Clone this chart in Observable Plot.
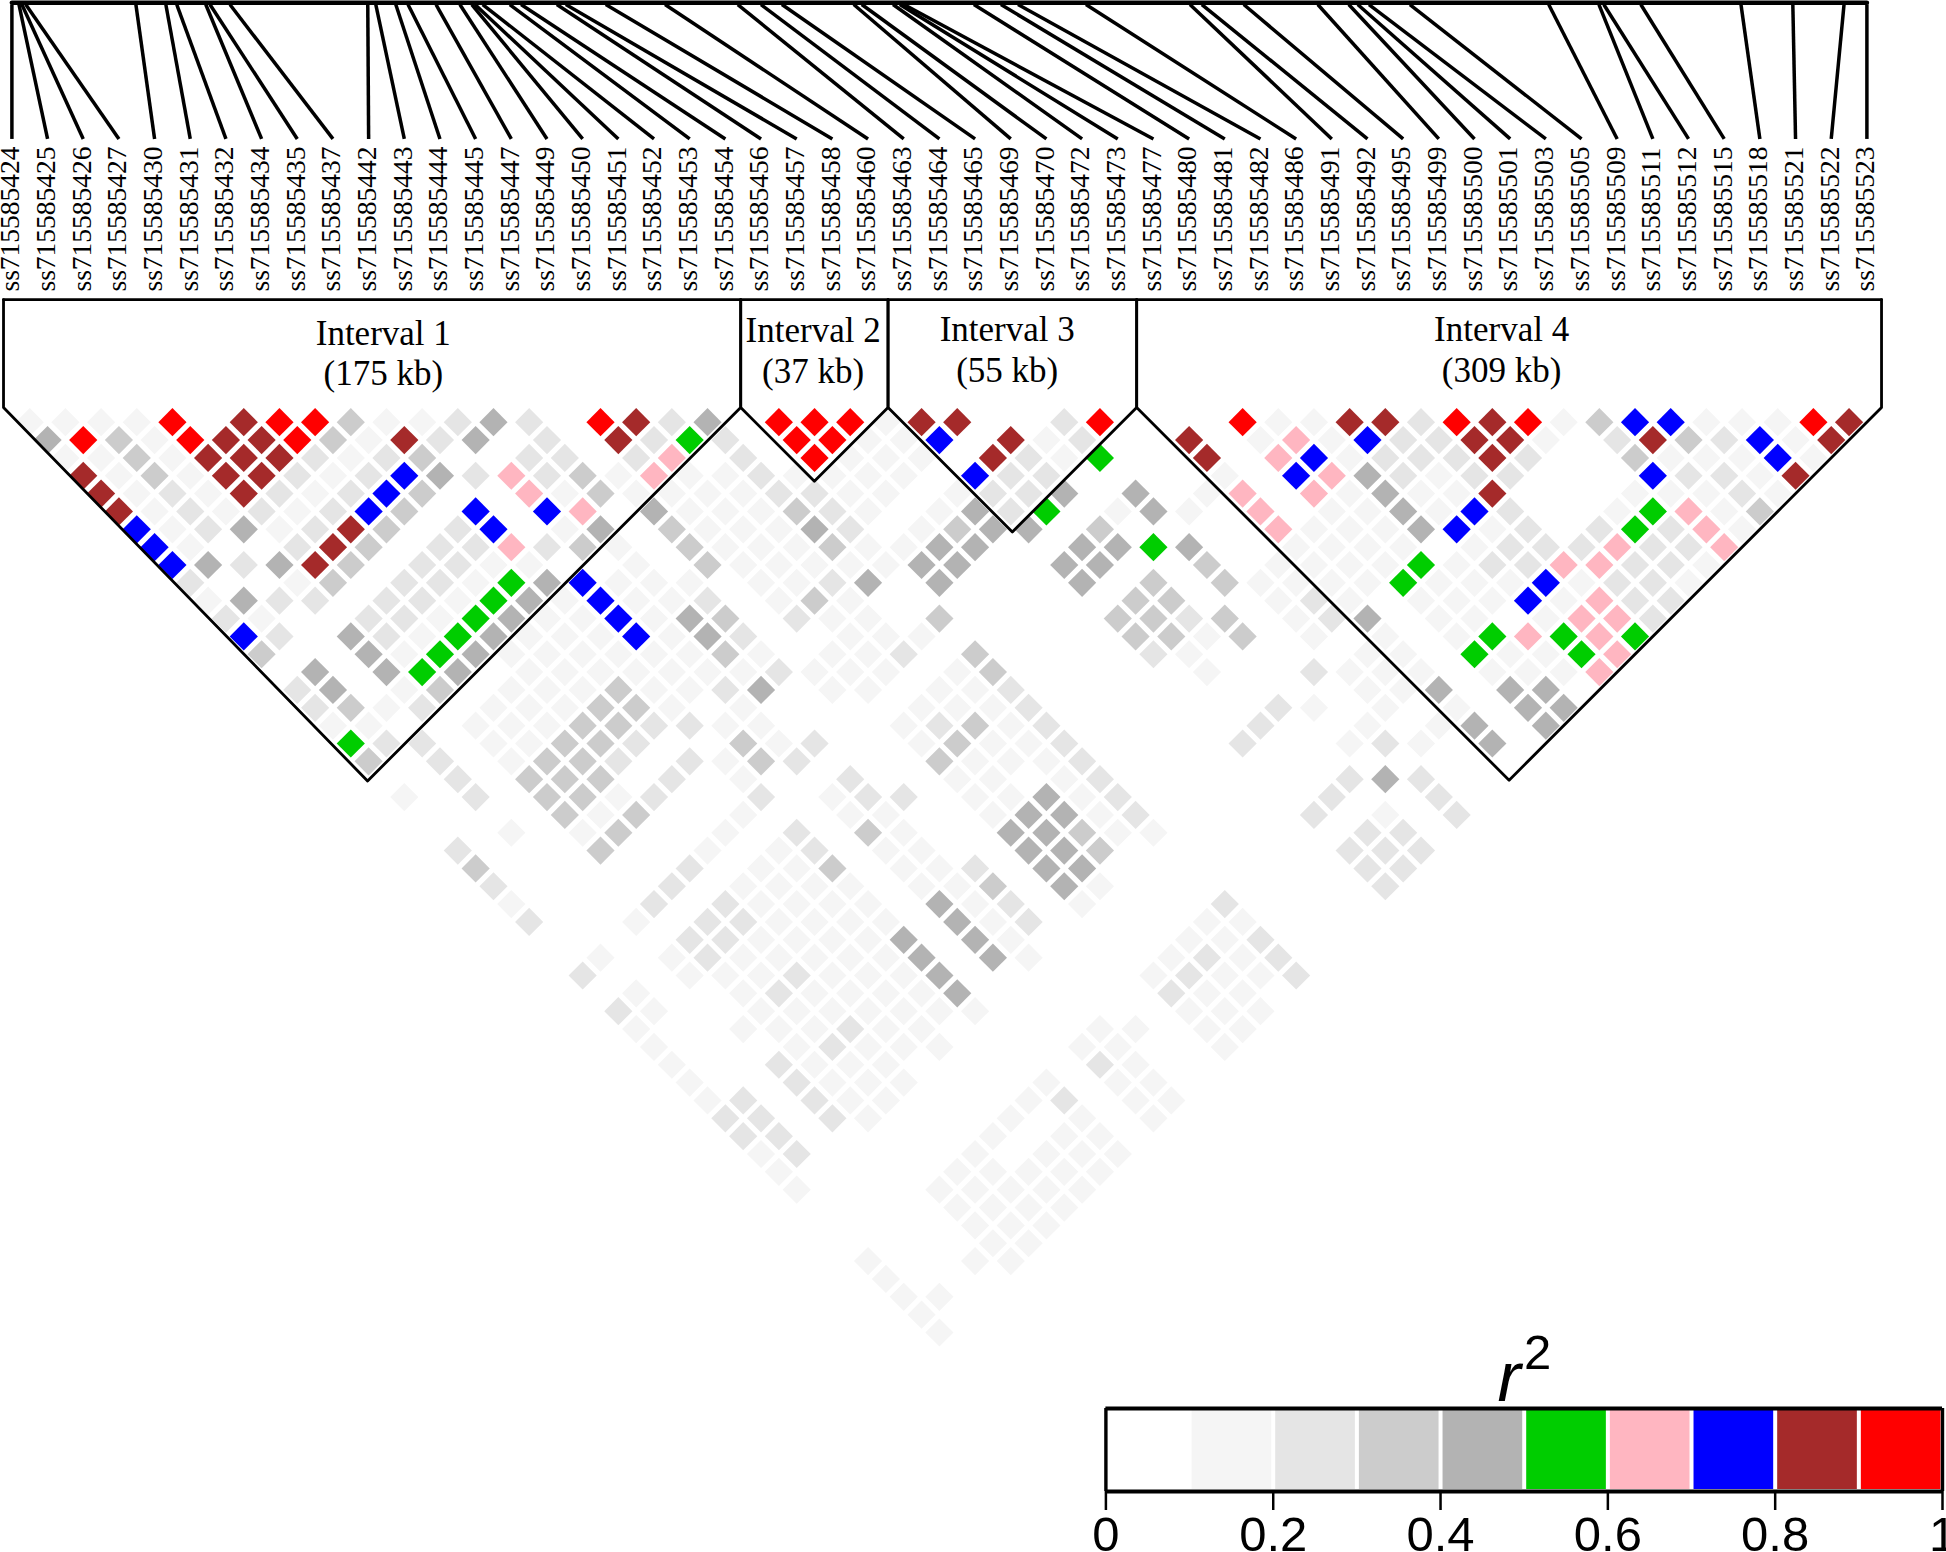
<!DOCTYPE html>
<html>
<head>
<meta charset="utf-8">
<script src="https://cdn.jsdelivr.net/npm/d3@7"></script>
<script src="https://cdn.jsdelivr.net/npm/@observablehq/plot@0.6"></script>
<style>
html,body{margin:0;padding:0;background:#fff;}
#wrap{position:relative;width:1946px;height:1552px;overflow:hidden;}
#legend{position:absolute;left:1080px;top:1320px;}
svg{display:block;}
</style>
</head>
<body>
<div id="wrap"><div id="main"></div><div id="legend"></div></div>
<script>
const snpSuffix = [424,425,426,427,430,431,432,434,435,437,442,443,444,445,447,449,450,451,452,453,454,456,457,458,460,463,464,465,469,470,472,473,477,480,481,482,486,491,492,495,499,500,501,503,505,509,511,512,515,518,521,522,523];
const snpKb = [0,2.2,3.1,4.3,38.5,47.8,51.2,60.2,61.5,67.7,110.5,113.0,119.2,123.0,131.7,139.1,142.8,143.8,146.2,154.6,158.1,169.2,172.0,184.4,202.8,225.4,232.6,239.1,261.4,263.9,273.6,275.7,277.0,298.7,307.1,312.4,333.5,365.8,369.5,382.5,405.5,415.1,417.9,421.4,434.1,477.2,492.8,494.3,505.8,536.9,553.0,568.9,576];
const totalKb = 576;
// r² class of each SNP pair: one string per separation (1 = neighbours), one digit per pair, digit d means d/10 ≤ r² < (d+1)/10
const r2Classes = [
"1111908993112420982409991880029000911882989137711198",
"493198893182402082520991170812008016172288102832718",
"11318882123002202602091110821500806712228200311171",
"8131882127426231611211110722000010764212200072218",
"812182127300613111122110122404016061411800011121",
"81212127307076041113210142501410601141720015613",
"7124128302701403111420134403000061114712025261",
"710028302262310311131144004454001111012226226",
"74248302211001031111144004400301111512266221",
"2001302215471110112404000403031111511171221",
"142202215417112013100000003300121011171622",
"21002215411714302110300003323012401101662",
"7204215411171420011100000331301010156565",
"300415411111131011203000021000011051156",
"04045401111111211101300000100211101116",
"2401301113112401101120000000001140440",
"231201113310100001112000000210101044",
"11001113322110001231200000200101404",
"5220113320031200131120000200121040",
"302013320213200031112000000000000",
"00203330201002001101200000024200",
"1020331200201220114120000020020",
"000031300100110014412000020102",
"00101300102031004431100000220",
"2000300101201100443000000222",
"300000201130112044000000022",
"20000201111011304100000002",
"1000202111104120100020000",
"200102211110412000011000",
"00002211114041000011200",
"0101211111404100012120",
"200111211140000012112",
"01001211114000002110",
"2100111111100000111",
"100111211000011011",
"10001211100011001",
"1002111000002100",
"100211100010110",
"12021100012011",
"2202100010101",
"220000010110",
"12000010111",
"1000011111",
"100011111",
"00001111",
"0000111",
"000011",
"10011",
"1000",
"110",
"10",
"1"
];
const classLower = [0,0.1,0.2,0.3,0.4,0.5,0.6,0.7,0.8,0.9];
const classColors = ["#ffffff","#f5f5f5","#e5e5e5","#cccccc","#b3b3b3","#00cd00","#ffb6c1","#0000ff","#a52a2a","#ff0000"];
const intervalNames = ["Interval 1\n(175 kb)","Interval 2\n(37 kb)","Interval 3\n(55 kb)","Interval 4\n(309 kb)"];
const intervalEdges = [-0.49,20.43,24.56,31.53,52.41];
const legendTicks = [0,0.2,0.4,0.6,0.8,1];

const colorScale = {type:"threshold",domain:classLower.slice(1),range:classColors};
const serif = "Liberation Serif";
const sans = "Liberation Sans";

// layout anchors, in the chart's own scale units
const busRow=-22.5, linkTopRow=-22.4, linkBottomRow=-14.87, labelRow=-6.32, boxTopRow=-5.87, triTopRow=0.18, boxLeft=-0.235;

const pairs = [];
r2Classes.forEach((s,r)=>{
  const k=r+1;
  [...s].forEach((c,i)=>{
    pairs.push({pos:i+k/2,k,r2:classLower[+c]+0.05});
  });
});
const snps = snpSuffix.map((n,i)=>({id:"ss715585"+n,i,top:snpKb[i]*52/totalKb}));

const intervals = intervalNames.map((name,n)=>{
  const a=intervalEdges[n], b=intervalEdges[n+1];
  return {name,a:n===0?boxLeft:a,b,apex:(a+b)/2,apexRow:triTopRow+(b-a)};
});
const outline = intervals.flatMap((t,n)=>[
  {n,x:t.a,y:boxTopRow},{n,x:t.a,y:triTopRow},{n,x:t.apex,y:t.apexRow},{n,x:t.b,y:triTopRow},{n,x:t.b,y:boxTopRow}
]);
const labelX=[10.41,22.46,27.9,41.76], labelY=[-2.94,-3.07,-3.13,-3.13];

const diamond={draw(ctx,size){const a=Math.sqrt(size/Math.PI);ctx.moveTo(0,-a);ctx.lineTo(a,0);ctx.lineTo(0,a);ctx.lineTo(-a,0);ctx.closePath();}};

const main = Plot.plot({
  width:1946,height:1552,margin:0,
  x:{domain:[0,52],range:[11.4,1866.4],axis:null},
  y:{domain:[1,52],range:[421.7,1332],axis:null},
  color:colorScale,
  marks:[
    Plot.dot(pairs,{x:"pos",y:"k",r:14.1,symbol:diamond,fill:"r2"}),
    Plot.line([{x:0,y:busRow},{x:52,y:busRow}],{x:"x",y:"y",stroke:"black",strokeWidth:4.6}),
    Plot.link(snps,{x1:"top",y1:()=>linkTopRow,x2:"i",y2:()=>linkBottomRow,stroke:"black",strokeWidth:3.5}),
    Plot.text(snps,{x:"i",y:()=>labelRow,text:"id",rotate:-90,textAnchor:"start",lineAnchor:"middle",dx:-1.5,fontSize:27.5,fontFamily:serif,fill:"black"}),
    Plot.line([{x:boxLeft,y:boxTopRow},{x:intervalEdges[4],y:boxTopRow}],{x:"x",y:"y",stroke:"black",strokeWidth:2.8}),
    Plot.line(outline,{x:"x",y:"y",z:"n",stroke:"black",strokeWidth:2.8}),
    Plot.text(intervals,{x:(d,i)=>labelX[i],y:(d,i)=>labelY[i],text:"name",fontSize:35,lineHeight:1.17,fontFamily:serif,fill:"black"})
  ]
});
document.getElementById("main").append(main);

const legend = Plot.plot({
  width:866,height:232,marginLeft:25.4,marginRight:4,marginTop:88,marginBottom:61,
  x:{domain:[0,1],axis:null},
  y:{domain:[0,1],axis:null},
  color:colorScale,
  marks:[
    Plot.rect(classLower,{x1:d=>d,x2:d=>d+0.1,y1:()=>0,y2:()=>1,fill:d=>d+0.05,insetLeft:2.5,insetRight:1.5,insetTop:2,insetBottom:2}),
    Plot.ruleY([0,1],{strokeWidth:4.2,stroke:"black"}),
    Plot.ruleX([0,1],{strokeWidth:3.4,stroke:"black"}),
    Plot.axisX({ticks:legendTicks,tickFormat:d=>String(d),tickSize:19,tickPadding:6,fontSize:49,fontFamily:sans,stroke:"black",strokeWidth:2.5,fill:"black",label:null}),
    Plot.text(["r"],{x:()=>0.482,y:()=>1.096,text:d=>d,fontSize:70,fontStyle:"italic",fontFamily:sans,lineAnchor:"bottom",fill:"black"}),
    Plot.text(["2"],{x:()=>0.516,y:()=>1.48,text:d=>d,fontSize:49,fontFamily:sans,lineAnchor:"bottom",fill:"black"})
  ]
});
document.getElementById("legend").append(legend);
</script>
</body>
</html>
